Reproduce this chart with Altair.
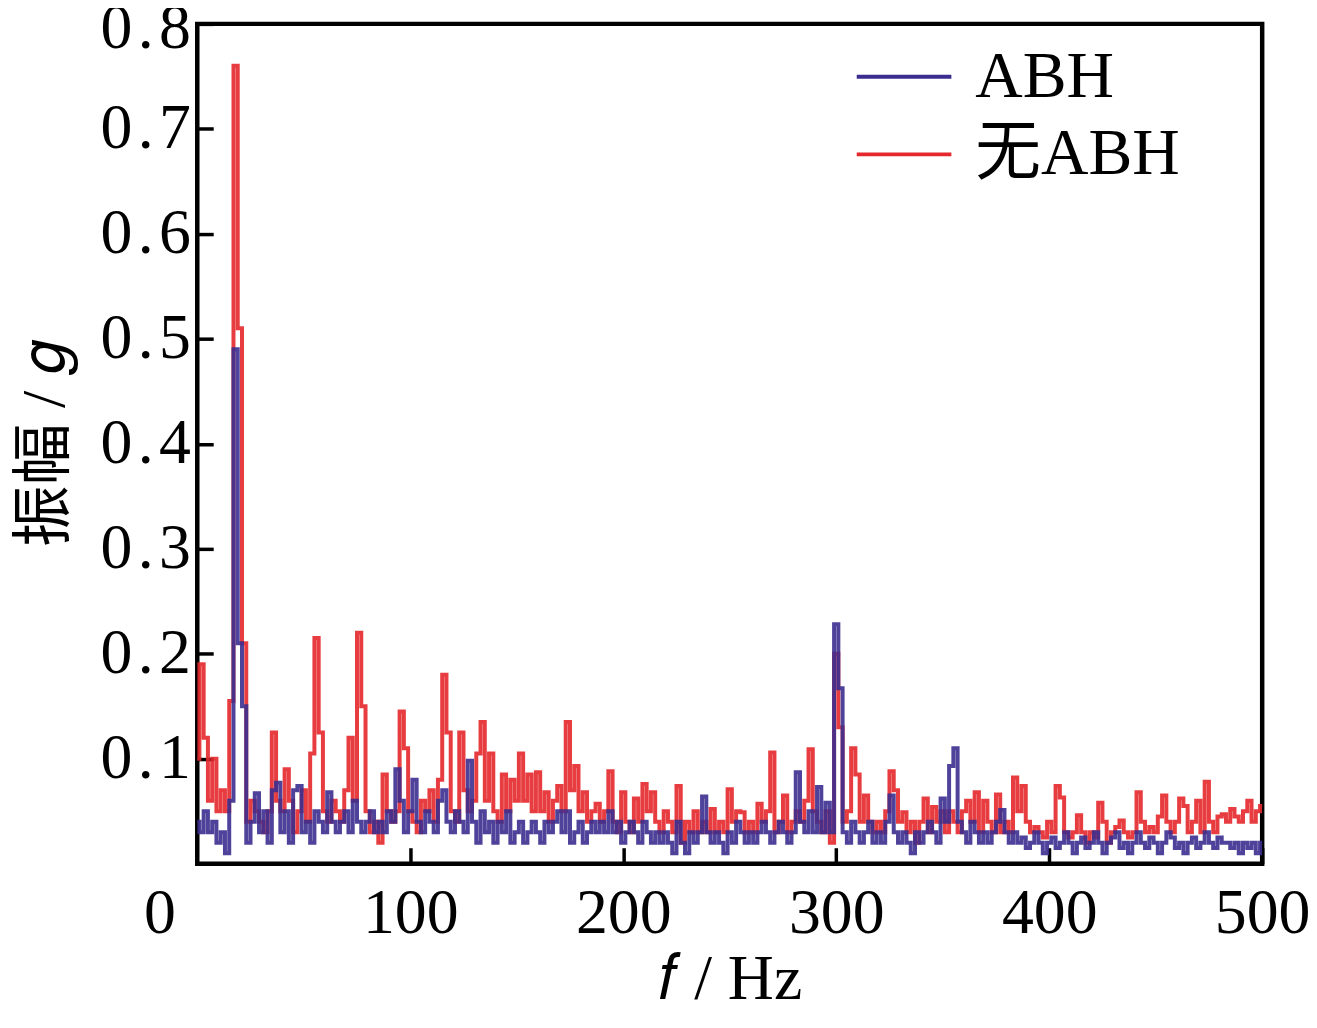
import altair as alt
import pandas as pd

# frequency grid (Hz), 2 Hz spacing
freqs = list(range(0, 501, 2))

# amplitude without ABH (red)
no_abh = [
    0.10, 0.19, 0.12, 0.06, 0.10, 0.05, 0.07, 0.05, 0.155, 0.76,
    0.51, 0.21, 0.04, 0.06, 0.05, 0.04, 0.03, 0.05, 0.125, 0.06,
    0.05, 0.09, 0.06, 0.03, 0.05, 0.07, 0.04, 0.105, 0.215, 0.125,
    0.05, 0.04, 0.06, 0.05, 0.04, 0.07, 0.12, 0.06, 0.22, 0.15,
    0.05, 0.03, 0.04, 0.02, 0.085, 0.05, 0.04, 0.05, 0.145, 0.11,
    0.05, 0.04, 0.03, 0.06, 0.05, 0.07, 0.04, 0.08, 0.18, 0.125,
    0.05, 0.04, 0.125, 0.07, 0.05, 0.06, 0.105, 0.135, 0.06, 0.105,
    0.05, 0.04, 0.085, 0.05, 0.08, 0.06, 0.105, 0.06, 0.085, 0.05,
    0.087, 0.05, 0.068, 0.04, 0.06, 0.074, 0.05, 0.135, 0.07, 0.093,
    0.05, 0.068, 0.04, 0.05, 0.057, 0.04, 0.05, 0.088, 0.04, 0.03,
    0.068, 0.04, 0.03, 0.062, 0.04, 0.076, 0.05, 0.068, 0.04, 0.03,
    0.05, 0.04, 0.03, 0.074, 0.02, 0.04, 0.03, 0.05, 0.03, 0.04,
    0.03, 0.052, 0.03, 0.04, 0.03, 0.071, 0.04, 0.05, 0.049, 0.03,
    0.04, 0.03, 0.057, 0.04, 0.05, 0.106, 0.03, 0.04, 0.065, 0.03,
    0.04, 0.05, 0.04, 0.06, 0.109, 0.05, 0.04, 0.03, 0.05, 0.02,
    0.20, 0.13, 0.04, 0.05, 0.11, 0.085, 0.04, 0.065, 0.04, 0.03,
    0.04, 0.03, 0.05, 0.088, 0.07, 0.04, 0.049, 0.03, 0.04, 0.02,
    0.04, 0.062, 0.03, 0.054, 0.04, 0.05, 0.03, 0.05, 0.04, 0.03,
    0.05, 0.06, 0.04, 0.068, 0.03, 0.06, 0.04, 0.03, 0.066, 0.03,
    0.04, 0.03, 0.082, 0.05, 0.074, 0.04, 0.03, 0.035, 0.03, 0.025,
    0.04, 0.03, 0.074, 0.063, 0.03, 0.025, 0.03, 0.046, 0.03, 0.02,
    0.03, 0.025, 0.058, 0.04, 0.02, 0.03, 0.035, 0.041, 0.03, 0.025,
    0.03, 0.068, 0.04, 0.03, 0.035, 0.03, 0.045, 0.065, 0.04, 0.03,
    0.04, 0.062, 0.055, 0.03, 0.04, 0.06, 0.03, 0.078, 0.04, 0.03,
    0.045, 0.047, 0.04, 0.052, 0.045, 0.04, 0.05, 0.06, 0.04, 0.05,
    0.055,
]

# amplitude with ABH (blue)
with_abh = [
    0.04, 0.03, 0.05, 0.03, 0.04, 0.02, 0.03, 0.01, 0.06, 0.49,
    0.21, 0.15, 0.02, 0.04, 0.067, 0.03, 0.05, 0.02, 0.07, 0.077,
    0.03, 0.05, 0.02, 0.07, 0.074, 0.03, 0.04, 0.02, 0.05, 0.04,
    0.03, 0.068, 0.04, 0.03, 0.04, 0.05, 0.03, 0.06, 0.04, 0.03,
    0.04, 0.05, 0.03, 0.04, 0.03, 0.05, 0.04, 0.09, 0.06, 0.03,
    0.05, 0.08, 0.04, 0.03, 0.05, 0.04, 0.03, 0.06, 0.07, 0.04,
    0.03, 0.05, 0.04, 0.03, 0.098, 0.04, 0.02, 0.05, 0.03, 0.04,
    0.02, 0.04, 0.03, 0.05, 0.02, 0.03, 0.04, 0.02, 0.03, 0.04,
    0.03, 0.02, 0.04, 0.03, 0.04, 0.05, 0.03, 0.05, 0.02, 0.03,
    0.04, 0.02, 0.03, 0.04, 0.03, 0.04, 0.03, 0.05, 0.03, 0.04,
    0.02, 0.03, 0.04, 0.03, 0.02, 0.04, 0.03, 0.02, 0.03, 0.02,
    0.03, 0.02, 0.01, 0.04, 0.02, 0.01, 0.03, 0.02, 0.03, 0.064,
    0.03, 0.02, 0.03, 0.02, 0.01, 0.03, 0.02, 0.04, 0.03, 0.02,
    0.03, 0.02, 0.03, 0.04, 0.03, 0.02, 0.03, 0.04, 0.03, 0.02,
    0.03, 0.087, 0.04, 0.03, 0.05, 0.03, 0.073, 0.03, 0.058, 0.03,
    0.228, 0.167, 0.03, 0.02, 0.04, 0.03, 0.02, 0.03, 0.04, 0.02,
    0.03, 0.02, 0.04, 0.065, 0.03, 0.02, 0.03, 0.02, 0.01, 0.03,
    0.02, 0.03, 0.04, 0.03, 0.02, 0.062, 0.04, 0.093, 0.11, 0.04,
    0.03, 0.02, 0.04, 0.03, 0.02, 0.03, 0.02, 0.03, 0.04, 0.051,
    0.03, 0.02, 0.03, 0.02, 0.025, 0.015, 0.02, 0.03, 0.02, 0.01,
    0.02, 0.025, 0.015, 0.02, 0.03, 0.02, 0.01, 0.02, 0.025, 0.015,
    0.02, 0.03, 0.02, 0.01, 0.02, 0.025, 0.03, 0.015, 0.02, 0.01,
    0.02, 0.03, 0.02, 0.015, 0.025, 0.02, 0.01, 0.02, 0.03, 0.025,
    0.015, 0.02, 0.01, 0.02, 0.025, 0.015, 0.02, 0.03, 0.02, 0.015,
    0.025, 0.02, 0.02, 0.015, 0.02, 0.01, 0.02, 0.015, 0.02, 0.01,
    0.02,
]

series_names = ["ABH", "无ABH"]
series_colors = ["#3b2d8f", "#e5282b"]
x_ticks = [0, 100, 200, 300, 400, 500]
y_ticks = [0.1, 0.2, 0.3, 0.4, 0.5, 0.6, 0.7, 0.8]

df_blue = pd.DataFrame({"f": freqs, "amp": with_abh, "series": series_names[0]})
df_red = pd.DataFrame({"f": freqs, "amp": no_abh, "series": series_names[1]})

FONT = "Liberation Serif, Times New Roman, Noto Sans CJK SC"

x_enc = alt.X(
    "f:Q",
    scale=alt.Scale(domain=[0, 500], nice=False, zero=False),
    axis=alt.Axis(
        values=x_ticks,
        title="𝑓 / Hz",
        domain=False,
        grid=False,
        offset=-16,
        tickSize=16,
        tickWidth=3.5,
        tickColor="black",
        tickOpacity={"condition": {"test": "datum.value === 0", "value": 0}, "value": 1},
        labelOffset={"condition": {"test": "datum.value === 0", "value": -38}, "value": 0},
        labelFont=FONT,
        labelFontSize=64,
        labelColor="black",
        labelPadding=18,
        labelFlush=False,
        titleFont=FONT,
        titleFontSize=64,
        titleFontWeight="normal",
        titleColor="black",
        titlePadding=2,
    ),
)
y_enc = alt.Y(
    "amp:Q",
    scale=alt.Scale(domain=[0, 0.8], nice=False, zero=False),
    axis=alt.Axis(
        values=y_ticks,
        labelExpr="replace(format(datum.value, '.1f'), '.', '\u200a.\u200a')",
        title="振幅 / 𝑔",
        domain=False,
        grid=False,
        offset=-16,
        tickSize=16,
        tickWidth=3.5,
        tickColor="black",
        labelOffset={"condition": {"test": "datum.value === 0.8", "value": 5}, "value": 0},
        labelFont=FONT,
        labelFontSize=64,
        labelColor="black",
        labelPadding=7,
        labelFlush=False,
        titleFont=FONT,
        titleFontSize=62,
        titleFontWeight="normal",
        titleColor="black",
        titlePadding=24,
    ),
)
color_enc = alt.Color(
    "series:N",
    scale=alt.Scale(domain=series_names, range=series_colors),
    legend=alt.Legend(
        title=None,
        orient="none",
        legendX=660,
        legendY=14,
        symbolType="stroke",
        symbolSize=9025,
        symbolStrokeWidth=4,
        symbolOpacity=1,
        labelFont=FONT,
        labelFontSize=66,
        labelColor="black",
        labelOffset=22,
        labelLimit=500,
        clipHeight=78,
        rowPadding=0,
        padding=0,
    ),
)

red = alt.Chart(df_red).mark_line(interpolate="step", strokeWidth=4, opacity=0.9).encode(
    x=x_enc, y=y_enc, color=color_enc
)
blue = alt.Chart(df_blue).mark_line(interpolate="step", strokeWidth=4, opacity=0.9).encode(
    x=x_enc, y=y_enc, color=color_enc
)

chart = (
    alt.layer(red, blue)
    .properties(
        width=1069,
        height=843,
        autosize=alt.AutoSizeParams(type="none"),
        padding={"left": 190, "top": 14, "right": 47, "bottom": 152},
    )
    .configure(background="white")
    .configure_view(stroke="black", strokeWidth=4.5)
)

chart.save("out.html", embed_options={"renderer": "svg", "actions": False})
